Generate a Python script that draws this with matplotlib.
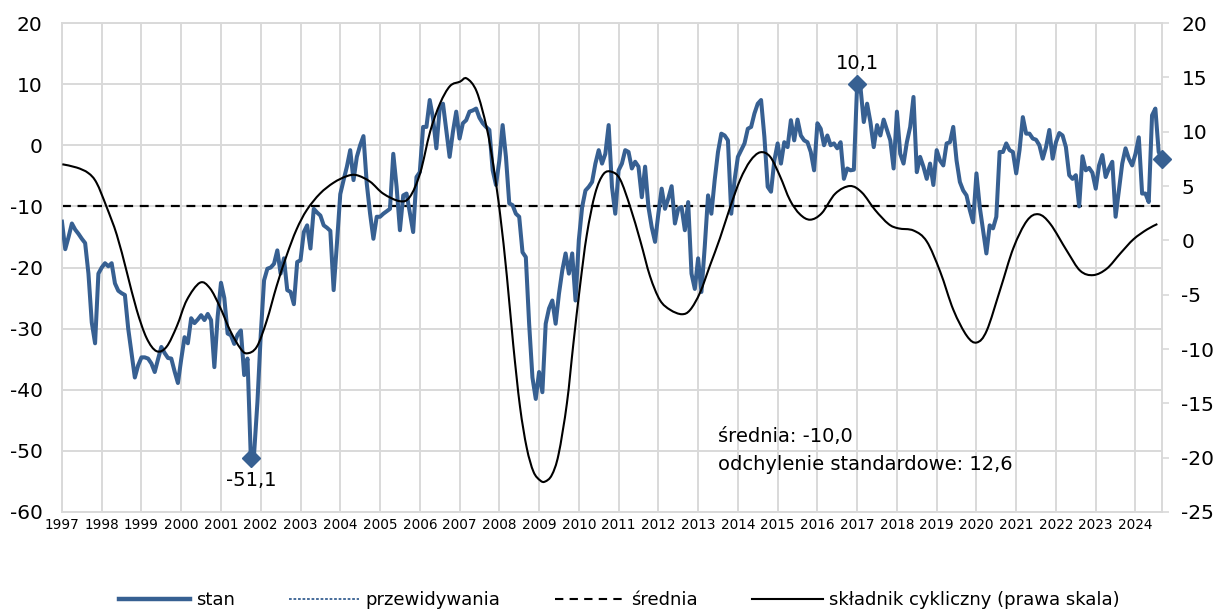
import numpy as np
import matplotlib.pyplot as plt
from matplotlib.lines import Line2D
from matplotlib.path import Path
from matplotlib.patches import PathPatch

plt.rcParams['font.family'] = 'DejaVu Sans'
plt.rcParams['axes.unicode_minus'] = False

# --- DATA (monthly, Jan 1997 - Sep 2024) ---
start_year = 1997
stan = [
    -12.5, -17.0, -15.0, -12.8, -13.8, -14.5, -15.3, -16.0, -21.0, -29.0, -32.4, -21.0,
    -20.0, -19.3, -19.8, -19.3, -22.6, -23.8, -24.2, -24.5, -30.0, -34.0, -38.0, -36.0,
    -34.7, -34.7, -34.9, -35.7, -37.1, -35.0, -33.0, -34.0, -34.8, -34.9, -37.0, -38.9,
    -35.0, -31.4, -32.4, -28.3, -29.1, -28.5, -27.8, -28.6, -27.6, -28.6, -36.3, -28.0,
    -22.5, -25.0, -30.8, -31.1, -32.5, -31.0, -30.3, -37.6, -34.9, -51.1, -50.4, -42.0,
    -31.0, -22.1, -20.2, -20.0, -19.4, -17.2, -21.0, -18.5, -23.7, -24.0, -26.0, -19.1,
    -18.8, -14.2, -13.1, -16.9, -10.4, -11.0, -11.5, -13.1, -13.5, -14.0, -23.7, -16.0,
    -8.0, -5.7, -3.5, -0.8, -5.7, -1.9, 0.0, 1.5, -6.3, -11.2, -15.3, -11.7,
    -11.7, -11.2, -10.8, -10.4, -1.4, -6.8, -13.9, -8.2, -7.9, -11.0, -14.2, -5.2,
    -4.4, 3.0, 3.0, 7.4, 4.4, -0.5, 6.0, 6.8, 2.5, -1.9, 2.2, 5.5,
    1.1, 3.6, 4.1, 5.5, 5.7, 6.0, 4.5, 3.6, 3.0, 2.5, -4.1, -6.5,
    -2.5, 3.3, -1.9, -9.5, -9.8, -11.2, -11.7, -17.5, -18.3, -29.2, -38.0, -41.5,
    -37.1, -40.4, -29.2, -26.7, -25.4, -29.2, -24.3, -20.5, -17.7, -21.0, -17.7, -25.4,
    -15.5, -10.1, -7.4, -6.8, -6.0, -3.0, -0.8, -3.0, -1.4, 3.3, -6.8, -11.2,
    -4.1, -3.0, -0.8, -1.1, -3.8, -2.7, -3.5, -8.5, -3.5, -10.1, -13.4, -15.8,
    -11.2, -7.1, -10.4, -8.7, -6.7, -12.8, -10.4, -10.1, -13.9, -9.3, -21.0, -23.5,
    -18.5, -24.0, -16.6, -8.2, -11.2, -5.7, -1.1, 1.9, 1.6, 0.8, -11.2, -5.7,
    -1.9, -0.8, 0.3, 2.7, 3.0, 5.2, 6.8, 7.4, 1.4, -6.8, -7.6, -2.5,
    0.3, -3.0, 0.5, -0.3, 4.1, 0.8, 4.2, 1.6, 0.8, 0.5, -1.1, -4.1,
    3.6, 2.7, 0.0, 1.6, 0.0, 0.3, -0.5, 0.5, -5.5, -3.8, -4.1, -4.0,
    10.1, 9.5, 3.8, 6.8, 3.8, -0.3, 3.3, 1.6, 4.2, 2.5, 0.8, -3.8,
    5.5, -1.4, -3.0, 0.5, 3.0, 7.9, -4.4, -1.9, -3.5, -5.5, -3.0, -6.5,
    -0.8, -2.5, -3.3, 0.3, 0.5, 3.0, -2.5, -6.0, -7.4, -8.2, -10.6, -12.6,
    -4.6, -10.1, -13.9, -17.7, -13.1, -13.6, -11.7, -1.1, -1.1, 0.3, -0.8, -1.1,
    -4.6, -0.8, 4.6, 1.9, 1.9, 1.1, 0.9, 0.0, -2.2, -0.3, 2.5, -2.2,
    0.5, 2.0, 1.6, -0.3, -4.9, -5.5, -4.9, -10.0, -1.8, -4.1, -3.7, -4.5,
    -7.1, -3.3, -1.6, -5.2, -3.8, -2.7, -11.7, -7.4, -3.0, -0.5, -2.2, -3.3,
    -1.4, 1.3, -7.9, -7.9, -9.3, 4.9, 6.0, -1.1, -2.2,
]

# cyclical component (right scale), read at decimal years
cykl_x = [
    1997.01, 1997.37, 1997.66, 1997.87, 1998.12, 1998.38, 1998.63, 1998.88,
    1999.13, 1999.38, 1999.63, 1999.89, 2000.14, 2000.47, 2000.72, 2000.97,
    2001.23, 2001.48, 2001.65, 2001.90, 2002.15, 2002.40, 2002.65, 2002.90,
    2003.16, 2003.49, 2003.83, 2004.16, 2004.41, 2004.75, 2005.08, 2005.50,
    2005.75, 2006.01, 2006.26, 2006.51, 2006.76, 2007.01, 2007.18, 2007.43,
    2007.68, 2007.85, 2008.02, 2008.19, 2008.35, 2008.52, 2008.69, 2008.86,
    2009.03, 2009.15, 2009.32, 2009.49, 2009.70, 2009.86, 2010.03, 2010.20,
    2010.41, 2010.62, 2010.83, 2011.04, 2011.29, 2011.55, 2011.79, 2012.04,
    2012.30, 2012.59, 2012.80, 2013.05, 2013.30, 2013.55, 2013.81, 2014.06,
    2014.31, 2014.56, 2014.81, 2015.06, 2015.31, 2015.56, 2015.82, 2016.11,
    2016.45, 2016.82, 2017.12, 2017.45, 2017.79, 2018.04, 2018.42, 2018.75,
    2019.09, 2019.42, 2019.76, 2020.01, 2020.26, 2020.60, 2020.93, 2021.27,
    2021.56, 2021.86, 2022.28, 2022.61, 2022.94, 2023.28, 2023.62, 2023.95,
    2024.29, 2024.55,
]
cykl_y = [
    7.0, 6.7, 6.2, 5.3, 3.1, 0.5, -2.9, -6.4,
    -9.0, -10.2, -9.8, -7.9, -5.5, -3.9, -4.4, -6.1,
    -8.3, -9.9, -10.4, -9.8, -7.4, -4.2, -1.4, 1.0,
    2.8, 4.3, 5.3, 5.9, 6.0, 5.4, 4.3, 3.6,
    4.0, 6.2, 10.0, 12.6, 14.2, 14.6, 14.9, 13.7,
    10.4, 6.9, 2.4, -3.3, -9.6, -15.3, -19.1, -21.3,
    -22.1, -22.2, -21.6, -19.7, -15.0, -9.6, -4.2, 0.5,
    4.3, 6.1, 6.3, 5.6, 3.1, -0.1, -3.3, -5.5,
    -6.4, -6.8, -6.4, -4.8, -2.3, 0.2, 3.1, 5.6,
    7.3, 8.1, 7.7, 5.9, 3.7, 2.4, 1.9, 2.5,
    4.3, 5.0, 4.4, 2.8, 1.5, 1.1, 0.9, -0.1,
    -2.9, -6.4, -8.8, -9.4, -8.3, -4.5, -0.7, 1.8,
    2.4, 1.5, -1.0, -2.8, -3.2, -2.6, -1.2, 0.1,
    1.0, 1.5,
]

srednia = -10.0
odchylenie = 12.6
year_ticks = list(range(1997, 2025))
left_ticks = list(range(-60, 21, 10))
right_ticks = list(range(-25, 21, 5))

BLUE = '#376092'
GRID = '#d9d9d9'

months = start_year + np.arange(len(stan)) / 12
stan_arr = np.array(stan)


def smooth_path(xs, ys):
    """Smoothed line through the points (Bezier segments, like Excel's 'smoothed line')."""
    p = np.column_stack([xs, ys])
    ext = np.vstack([p[0], p, p[-1]])
    verts = [p[0]]
    codes = [Path.MOVETO]
    for i in range(len(p) - 1):
        p0, p1, p2, p3 = ext[i], ext[i + 1], ext[i + 2], ext[i + 3]
        verts += [p1 + (p2 - p0) / 6, p2 - (p3 - p1) / 6, p2]
        codes += [Path.CURVE4] * 3
    return Path(verts, codes)


fig = plt.figure(figsize=(12.17, 6.12), dpi=100)
ax = fig.add_axes([0.0509, 0.1634, 0.9039, 0.799])

# --- left axis: stan + mean ---
ax.axhline(srednia, color='black', lw=1.6, ls=(0, (4, 3)), zorder=2)
ax.plot(months, stan_arr, color=BLUE, lw=2.9, zorder=3, solid_joinstyle='round')

i_min = int(np.argmin(stan_arr))
i_max = int(np.argmax(stan_arr))
i_last = len(stan_arr) - 1
for i in (i_min, i_max, i_last):
    ax.plot(months[i], stan_arr[i], marker='D', color=BLUE, ms=9, zorder=4, clip_on=False)

fmt = lambda v: f"{v:.1f}".replace('.', ',')
ax.annotate(fmt(stan_arr[i_min]), (months[i_min], stan_arr[i_min]), xytext=(0, -16.5),
            textcoords='offset points', ha='center', va='center', fontsize=14)
ax.annotate(fmt(stan_arr[i_max]), (months[i_max], stan_arr[i_max]), xytext=(0, 14.5),
            textcoords='offset points', ha='center', va='center', fontsize=14)

ax.set_xlim(start_year, months[-1])
ax.set_ylim(-60, 20)
ax.set_yticks(left_ticks)
ax.set_xticks(year_ticks)
ax.set_xticklabels([str(y) for y in year_ticks])
ax.grid(True, color=GRID, lw=1.4)
ax.set_axisbelow(True)
ax.tick_params(axis='y', length=0, pad=14, labelsize=14.5)
ax.tick_params(axis='x', length=0, pad=4, labelsize=9.8)
for s in ax.spines.values():
    s.set_color(GRID)
    s.set_linewidth(1.4)

# --- right axis: cyclical component ---
ax2 = ax.twinx()
ax2.add_patch(PathPatch(smooth_path(cykl_x, cykl_y), fill=False, edgecolor='black',
                        lw=1.5, zorder=3))
ax2.set_ylim(-25, 20)
ax2.set_yticks(right_ticks)
ax2.tick_params(axis='y', length=5, width=1.2, color=GRID, pad=9, labelsize=14.5)
for s in ax2.spines.values():
    s.set_visible(False)

# --- stats text ---
fig.text(0.59, 1 - 437 / 612, f"średnia: {fmt(srednia)}", fontsize=14, va='center')
fig.text(0.59, 1 - 464 / 612, f"odchylenie standardowe: {fmt(odchylenie)}", fontsize=14, va='center')

# --- legend ---
handles = [
    Line2D([], [], color=BLUE, lw=3.2),
    Line2D([], [], color=BLUE, lw=1.3, ls=(0, (1.5, 1))),
    Line2D([], [], color='black', lw=1.5, ls=(0, (4, 3))),
    Line2D([], [], color='black', lw=1.5),
]
labels = ['stan', 'przewidywania', 'średnia', 'składnik cykliczny (prawa skala)']
fig.legend(handles, labels, loc='center', bbox_to_anchor=(0.509, 1 - 600 / 612), ncol=4,
           frameon=False, fontsize=13, handlelength=3.9, handletextpad=0.35, columnspacing=3.0)

fig.savefig('out.png', dpi=100)
